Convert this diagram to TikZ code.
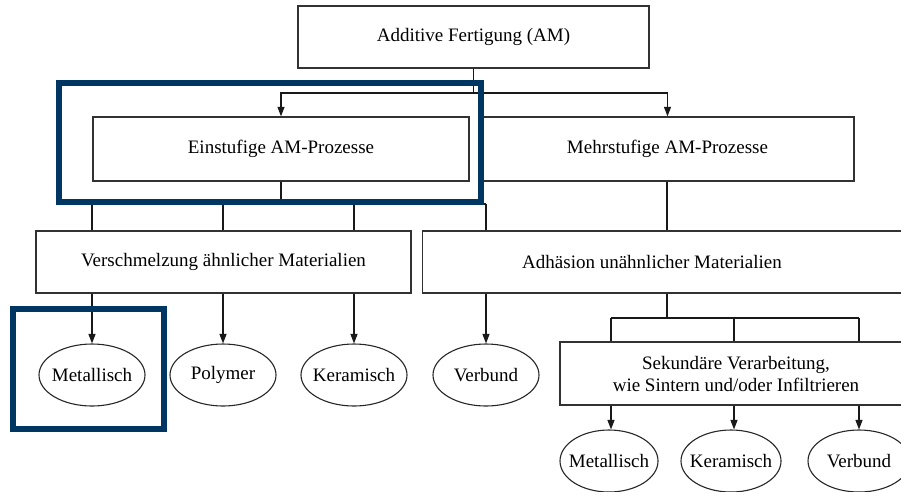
\documentclass[tikz,border=0pt]{standalone}
\usepackage{fontspec}
\setmainfont{Liberation Serif}
\usetikzlibrary{arrows.meta,shapes.geometric}
\definecolor{navy}{RGB}{0,55,98}
\definecolor{edge}{RGB}{50,50,50}
\newcommand{\zw}[1]{\makebox[0pt][c]{#1}}
\begin{document}
\begin{tikzpicture}[x=1pt,y=-1pt,
  box/.style={draw=edge,line width=1.3pt,rectangle,inner sep=0pt,font=\fontsize{19}{22}\selectfont,align=center},
  lbl/.style={inner sep=0pt,font=\fontsize{19}{22}\selectfont},
  oval/.style={draw=black!85,line width=1.1pt,ellipse,inner sep=0pt,minimum height=62pt,font=\fontsize{19}{22}\selectfont},
  conn/.style={draw=black!90,line width=1.1pt},
  arr/.style={conn,-{Triangle[length=9.5pt,width=7pt]}},
  frame/.style={draw=navy,line width=5.5pt}]
\useasboundingbox (0,0) rectangle (901,491);
\clip (0,0) rectangle (901,491);
% boxes
\node[box,minimum width=351pt,minimum height=62pt] (am) at (473.5,37) {Additive Fertigung (AM)};
\node[box,minimum width=376pt,minimum height=64pt] (ein) at (281,149) {Einstufige AM-Prozesse};
\node[box,minimum width=373pt,minimum height=64pt] (mehr) at (667.5,149) {Mehrstufige AM-Prozesse};
\node[box,minimum width=375pt,minimum height=62pt] (vers) at (223.5,262) {Verschmelzung ähnlicher Materialien};
\node[box,minimum width=500pt,minimum height=62pt,anchor=west] (adh) at (422,262) {};
\node[lbl] (adhtext) at (652,262) {Adhäsion unähnlicher Materialien};
\node[box,minimum width=352pt,minimum height=63pt] (sek) at (736,373.5) {Sekundäre Verarbeitung,\\wie Sintern und/oder Infiltrieren};
% ellipses
\node[oval,minimum width=106pt] (m1) at (92,375) {\zw{Metallisch}};
\node[oval,minimum width=106pt] (p1) at (223,375) {\zw{Polymer}};
\node[oval,minimum width=106pt] (k1) at (354,375) {\zw{Keramisch}};
\node[oval,minimum width=106pt] (v1) at (486,375) {\zw{Verbund}};
\node[oval,minimum width=98pt] (m2) at (609,461) {\zw{Metallisch}};
\node[oval,minimum width=100pt] (k2) at (731,461) {\zw{Keramisch}};
\node[oval,minimum width=102pt] (v2) at (859,461) {\zw{Verbund}};
% junctions
\coordinate (j1) at (473.5,93);
\coordinate (j2) at (281,204);
\coordinate (j2l) at (92,204);
\coordinate (j2r) at (486,204);
\coordinate (j3) at (667,318);
\coordinate (j3l) at (611,318);
\coordinate (j3m) at (734,318);
\coordinate (j3r) at (859,318);
% connectors
\draw[conn] (am.south) -- (j1);
\draw[arr] (j1) -| (ein.north);
\draw[arr] (j1) -| (mehr.north);
\draw[conn] (ein.south) -- (j2);
\draw[conn] (j2l) -- (j2r);
\draw[conn] (j2l) -- (j2l |- vers.north);
\draw[conn] (j2 -| p1) -- (p1 |- vers.north);
\draw[conn] (j2 -| k1) -- (k1 |- vers.north);
\draw[conn] (j2r) -- (j2r |- adh.north);
\draw[conn] (mehr.south -| j3) -- (j3 |- adh.north);
\draw[arr] (vers.south -| m1) -- (m1.north);
\draw[arr] (vers.south -| p1) -- (p1.north);
\draw[arr] (vers.south -| k1) -- (k1.north);
\draw[arr] (adh.south -| v1) -- (v1.north);
\draw[conn] (adh.south -| j3) -- (j3);
\draw[conn] (j3l) -- (j3r);
\draw[conn] (j3l) -- (j3l |- sek.north);
\draw[conn] (j3m) -- (j3m |- sek.north);
\draw[conn] (j3r) -- (j3r |- sek.north);
\draw[arr] (sek.south -| j3l) -- (j3l |- m2.north);
\draw[arr] (sek.south -| j3m) -- (j3m |- k2.north);
\draw[arr] (sek.south -| v2) -- (v2.north);
% highlight frames
\draw[frame] (59,83) rectangle (481,202);
\draw[frame] (13,309) rectangle (164,429);
\end{tikzpicture}
\end{document}
